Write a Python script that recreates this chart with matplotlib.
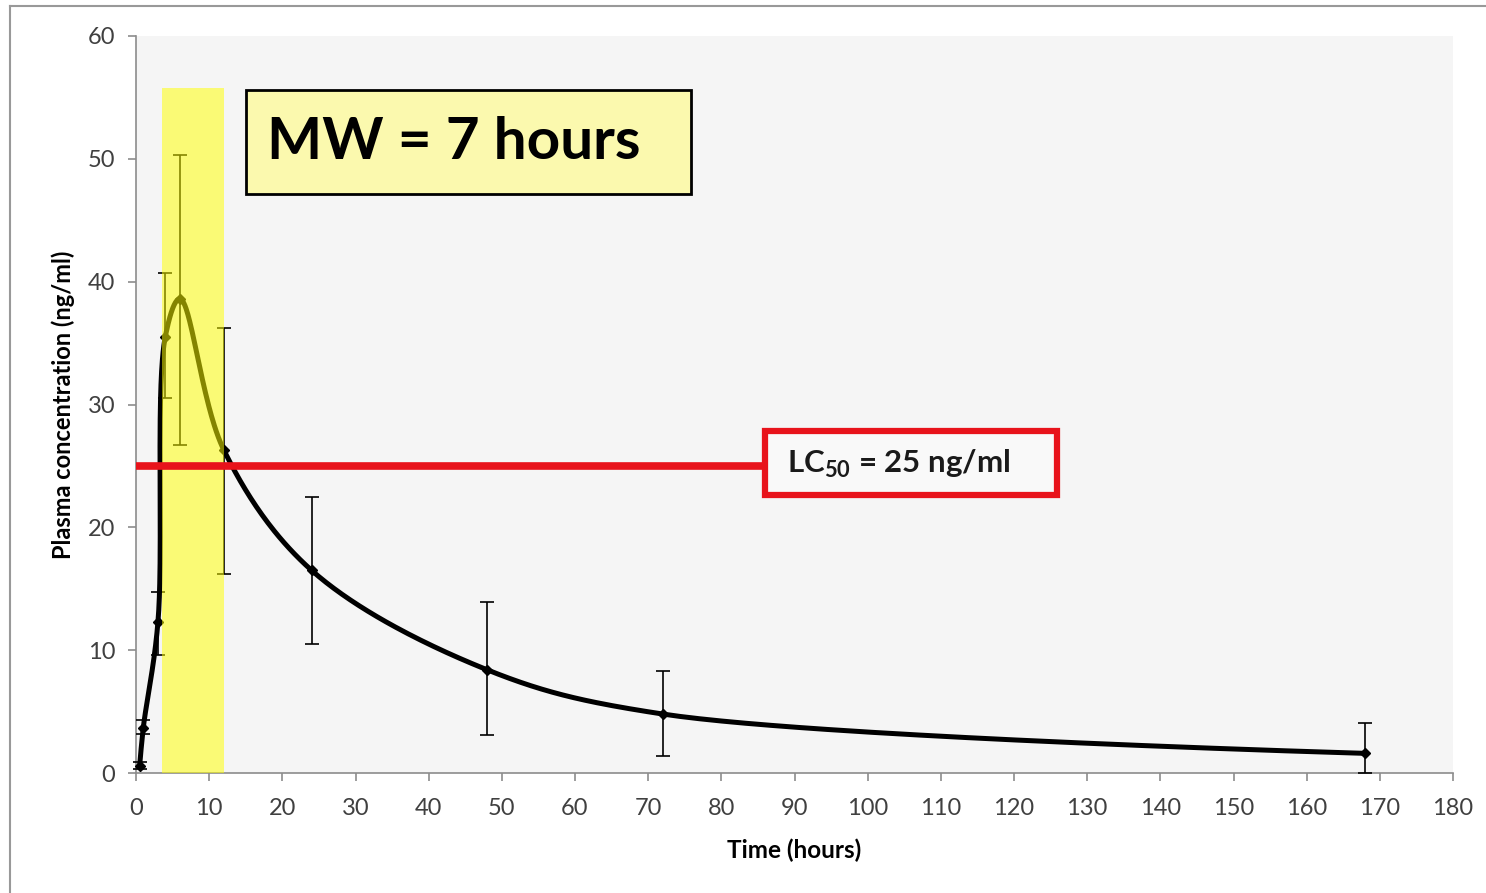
import numpy as np
import matplotlib
matplotlib.use("Agg")
import matplotlib.pyplot as plt
from matplotlib.patches import Rectangle
from matplotlib.lines import Line2D

# ---- data ----
time_h = [0.5, 1, 3, 4, 6, 12, 24, 48, 72, 168]
conc = [0.6, 3.7, 12.3, 35.5, 38.6, 26.3, 16.5, 8.4, 4.8, 1.6]
err_up = [0.3, 0.6, 2.4, 5.2, 11.7, 9.9, 6.0, 5.5, 3.5, 2.5]
err_lo = [0.3, 0.5, 2.7, 5.0, 11.9, 10.1, 6.0, 5.3, 3.4, 1.6]
lc50 = 25
mw_start, mw_end = 3.6, 12.0
mw_label = "MW = 7 hours"
lc_label = r"LC$_{\mathbf{50}}$ = 25 ng/ml"
xticks = list(range(0, 181, 10))
yticks = list(range(0, 61, 10))

FONT = ["Lato", "DejaVu Sans"]
plt.rcParams["font.family"] = FONT
plt.rcParams["mathtext.fontset"] = "custom"
plt.rcParams["mathtext.rm"] = "Lato"
plt.rcParams["mathtext.bf"] = "Lato:bold"

fig = plt.figure(figsize=(14.86, 8.93), dpi=100)
ax = fig.add_axes([136 / 1486, 1 - 773 / 893, (1453 - 136) / 1486, (773 - 36) / 893])
ax.set_facecolor("#F5F5F5")
ax.set_xlim(0, 180)
ax.set_ylim(0, 60)


def smooth(xs, ys, sx, sy, n=60):
    # Catmull-Rom spline in display-scaled space (Excel-like smoothed line)
    P = np.column_stack([np.asarray(xs) * sx, np.asarray(ys) * sy])
    P = np.vstack([P[0], P, P[-1]])
    out = []
    for i in range(1, len(P) - 2):
        p0, p1, p2, p3 = P[i - 1], P[i], P[i + 1], P[i + 2]
        d01 = max(np.linalg.norm(p1 - p0), 1e-6) ** 0.5
        d12 = max(np.linalg.norm(p2 - p1), 1e-6) ** 0.5
        d23 = max(np.linalg.norm(p3 - p2), 1e-6) ** 0.5
        m1 = (p2 - p1) + d12 * ((p1 - p0) / d01 - (p2 - p0) / (d01 + d12))
        m2 = (p2 - p1) + d12 * ((p3 - p2) / d23 - (p3 - p1) / (d12 + d23))
        t = np.linspace(0, 1, n)[:, None]
        h00 = 2 * t**3 - 3 * t**2 + 1
        h10 = t**3 - 2 * t**2 + t
        h01 = -2 * t**3 + 3 * t**2
        h11 = t**3 - t**2
        seg = h00 * p1 + h10 * m1 + h01 * p2 + h11 * m2
        out.append(seg if i == 1 else seg[1:])
    S = np.vstack(out)
    return S[:, 0] / sx, S[:, 1] / sy


sx, sy = 1317 / 180, 737 / 60
cx, cy = smooth(time_h, conc, sx, sy)
ax.plot(cx, cy, color="black", lw=3.6, zorder=3, solid_capstyle="round")
ax.errorbar(time_h, conc, yerr=[err_lo, err_up], fmt="D", color="black",
            markersize=5, ecolor="black", elinewidth=1.2, capsize=5,
            capthick=1.2, zorder=4, clip_on=False)

# measurement window band (semi-transparent, on top of the curve)
ax.add_patch(Rectangle((mw_start, 0), mw_end - mw_start, 55.8,
                       facecolor="#FFFF00", alpha=0.52, edgecolor="none", zorder=5))

# LC50 threshold line
ax.add_line(Line2D([0, 86], [lc50, lc50], color="#E8131B", lw=5.5, zorder=6,
                   solid_capstyle="butt"))

# MW box
ax.add_patch(Rectangle((15.0, 47.1), 60.9, 8.5, facecolor="#FBF9AE",
                       edgecolor="black", lw=2, zorder=7))
ax.text(17.9, 51.3, mw_label, fontsize=42, fontweight="bold", va="center",
        ha="left", zorder=8, color="black")

# LC50 box
ax.add_patch(Rectangle((86.0, 22.6), 39.9, 5.25, facecolor="#F9F9F9",
                       edgecolor="#E8131B", lw=4.5, zorder=7))
ax.text(89.0, 25.2, lc_label, fontsize=22.5, fontweight="bold", va="center",
        ha="left", zorder=8, color="#1a1a1a")

# axes styling
for s in ["top", "right"]:
    ax.spines[s].set_visible(False)
for s in ["left", "bottom"]:
    ax.spines[s].set_color("#8C8C8C")
    ax.spines[s].set_linewidth(1.2)
ax.set_xticks(xticks)
ax.set_yticks(yticks)
ax.tick_params(axis="both", colors="#8C8C8C", labelcolor="#404040",
               labelsize=17, length=6, width=1.2, direction="out")
ax.tick_params(axis="x", pad=12)
ax.tick_params(axis="y", pad=9)
ax.set_xlabel("Time (hours)", fontsize=17.5, fontweight="bold", labelpad=14)
ax.set_ylabel("Plasma concentration (ng/ml)", fontsize=17, fontweight="bold",
              labelpad=9)

# outer frame (left and top edges visible)
fig.add_artist(Line2D([10 / 1486, 10 / 1486], [0, 1 - 6 / 893],
                      transform=fig.transFigure, color="#999999", lw=1.5))
fig.add_artist(Line2D([10 / 1486, 1], [1 - 6 / 893, 1 - 6 / 893],
                      transform=fig.transFigure, color="#999999", lw=1.5))

fig.savefig("out.png", dpi=100, facecolor="white")
